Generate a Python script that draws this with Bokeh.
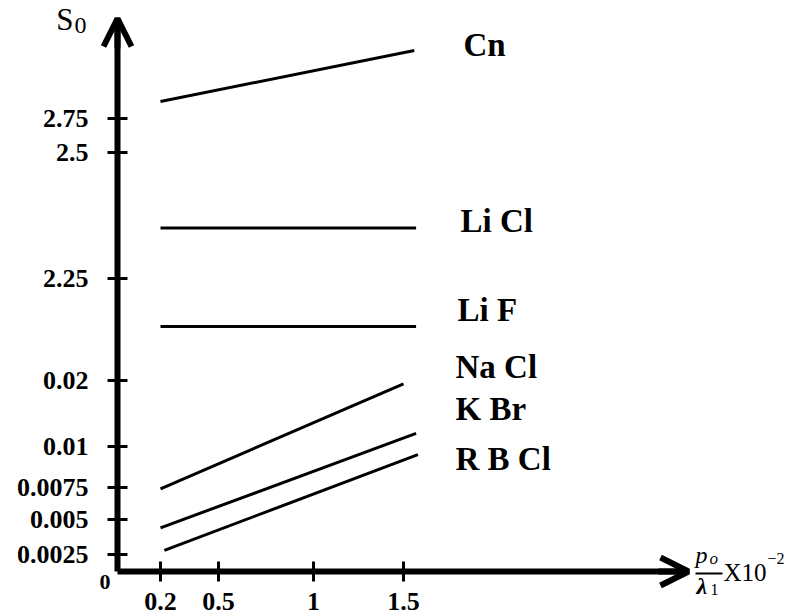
import numpy as np
from bokeh.plotting import figure
from bokeh.models import Range1d, FixedTicker, Label, Arrow, OpenHead, ColumnDataSource
from bokeh.embed import file_html
from bokeh.resources import INLINE

# ---------------- data ----------------
series = ["Cn", "Li Cl", "Li F", "Na Cl", "K Br", "R B Cl"]
x_start = [0.2, 0.2, 0.2, 0.2, 0.2, 0.22]
x_end = [1.56, 1.57, 1.57, 1.5, 1.57, 1.58]
s0_start = [2.875, 2.35, 1.20, 0.0074, 0.0044, 0.0028]
s0_end = [3.25, 2.35, 1.20, 0.0195, 0.012, 0.0095]

x_tick_values = [0.2, 0.5, 1, 1.5]
x_tick_labels = ["0.2", "0.5", "1", "1.5"]
y_tick_values = [0.0025, 0.005, 0.0075, 0.01, 0.02, 2.25, 2.5, 2.75]
y_tick_labels = ["0.0025", "0.005", "0.0075", "0.01", "0.02", "2.25", "2.5", "2.75"]

# ---------------- layout: the schematic (broken) axes ----------------
# axis positions (pixels from the origin) at which each tick sits
X_TICK_POS = [43, 101, 196, 286]
Y_TICK_POS = [17, 52, 84, 125, 191, 293, 419, 453]
X_LEN, Y_LEN = 571, 553          # axis lengths up to the arrow tips
W, H = 790, 616
OX, OY = 117, 571                # origin in canvas pixels


def piecewise(values, positions):
    v = np.concatenate([[0.0], np.asarray(values, float)])
    p = np.concatenate([[0.0], np.asarray(positions, float)])
    slope = (p[-1] - p[-2]) / (v[-1] - v[-2])

    def f(x):
        x = np.asarray(x, float)
        out = np.interp(x, v, p)
        hi = x > v[-1]
        out[hi] = p[-1] + (x[hi] - v[-1]) * slope
        return out
    return f


fx = piecewise(x_tick_values, X_TICK_POS)
fy = piecewise(y_tick_values, Y_TICK_POS)

src = ColumnDataSource(dict(
    x0=fx(x_start), y0=fy(s0_start), x1=fx(x_end), y1=fy(s0_end), name=series))

p = figure(width=W, height=H, x_range=Range1d(-OX, W - OX), y_range=Range1d(OY - H, OY),
           output_backend="svg", toolbar_location=None, min_border=0)
p.grid.visible = False
p.outline_line_color = None
p.background_fill_color = "white"
p.border_fill_color = "white"

p.segment(x0="x0", y0="y0", x1="x1", y1="y1", source=src, line_color="black", line_width=3)

for ax in (p.xaxis[0], p.yaxis[0]):
    ax.fixed_location = 0
    ax.axis_line_width = 6
    ax.axis_line_color = "black"
    ax.major_tick_line_width = 3
    ax.major_tick_line_color = "black"
    ax.major_tick_in = 10
    ax.major_tick_out = 10
    ax.minor_tick_line_color = None
    ax.major_label_text_font = "Liberation Serif"
    ax.major_label_text_font_style = "bold"
    ax.major_label_text_font_size = "26px"
    ax.major_label_text_color = "black"

p.xaxis.bounds = (0, X_LEN)
p.yaxis.bounds = (0, Y_LEN)
p.xaxis.ticker = FixedTicker(ticks=X_TICK_POS)
p.xaxis.major_label_overrides = dict(zip(X_TICK_POS, x_tick_labels))
p.xaxis.major_label_standoff = 11
p.yaxis.ticker = FixedTicker(ticks=Y_TICK_POS)
p.yaxis.major_label_standoff = 19
p.yaxis.major_label_overrides = dict(zip(Y_TICK_POS, y_tick_labels))

# arrow heads on the axes
p.add_layout(Arrow(x_start=0, y_start=Y_LEN - 30, x_end=0, y_end=Y_LEN, line_width=6,
                   end=OpenHead(size=28, line_width=6, line_color="black")))
p.add_layout(Arrow(x_start=X_LEN - 30, y_start=0, x_end=X_LEN, y_end=0, line_width=6,
                   end=OpenHead(size=28, line_width=6, line_color="black")))

SERIF = "Liberation Serif"


def lab(x, y, text, size, style="normal", align="left", xo=0, yo=0):
    p.add_layout(Label(x=x, y=y, x_offset=xo, y_offset=yo, text=text, text_align=align,
                       text_baseline="alphabetic", text_font=SERIF, text_font_size=size,
                       text_font_style=style, text_color="black"))


# series names
label_pos = [(346, 527), (343, 351), (340, 262), (338, 205), (338, 163), (338, 113)]
for name, (lx, ly) in zip(series, label_pos):
    lab(lx, ly, name, "33px", "bold")

# origin and y-axis title
lab(0, 0, "0", "22px", "bold", align="right", xo=-7, yo=-10)
lab(0, Y_LEN, "S", "31px", align="right", xo=-44, yo=-1)
lab(0, Y_LEN, "0", "24px", xo=-43, yo=-7)

# x-axis title: p_o / lambda_1  X10^-2
lab(X_LEN, 0, "p", "24px", "italic", xo=7, yo=17)
lab(X_LEN, 0, "o", "17px", "italic", xo=21, yo=13)
p.add_layout(Arrow(x_start=X_LEN + 7, y_start=-2, x_end=X_LEN + 34, y_end=-2,
                   line_width=2, line_color="black", end=None))
lab(X_LEN, 0, "λ", "24px", "bold italic", xo=8, yo=-14)
lab(X_LEN, 0, "1", "16px", xo=22, yo=-18)
lab(X_LEN, 0, "X10", "25px", xo=35, yo=-1)
lab(X_LEN, 0, "−2", "16px", xo=79, yo=13)

open("out.html", "w").write(file_html(p, INLINE))
